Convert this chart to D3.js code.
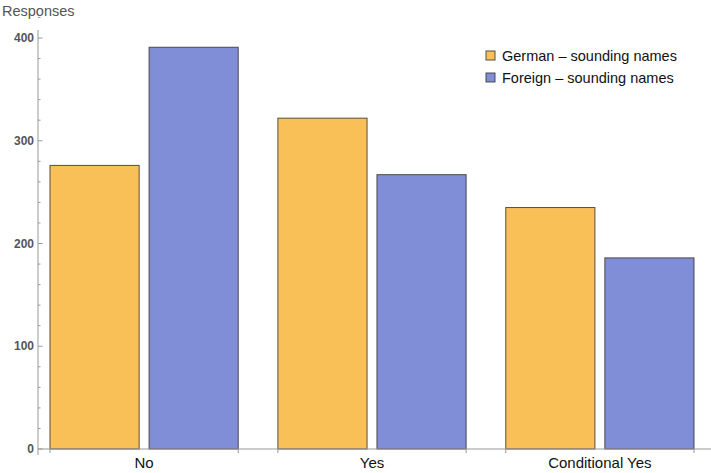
<!DOCTYPE html>
<html>
<head>
  <meta charset="utf-8">
  <script src="https://d3js.org/d3.v7.min.js"></script>
  <style>
    body { margin: 0; background: #fff; }
    text { font-family: "Liberation Sans", Arial, sans-serif; }
  </style>
</head>
<body>
  <svg width="711" height="473"></svg>

  <script>
    // Chart data
    var categories = ["No", "Yes", "Conditional Yes"];
    var seriesNames = ["German \u2013 sounding names", "Foreign \u2013 sounding names"];
    var germanValues = [276, 322, 235];
    var foreignValues = [391, 267, 186];
    var yTicks = [0, 100, 200, 300, 400];

    var colors = ["#F9C057", "#7F8ED6"];

    var svg = d3.select("svg");

    var y0 = 449, yTop = 38;
    var y = d3.scaleLinear().domain([0, 400]).range([y0, yTop]);

    // group scale and bar-in-group scale
    var x = d3.scaleBand().domain(categories).range([50, 694]).paddingInner(0.174).paddingOuter(0);
    var xs = d3.scaleBand().domain(seriesNames).range([0, x.bandwidth()]).paddingInner(0.1).paddingOuter(0);

    var rows = categories.map((c, i) => ({ cat: c, vals: [germanValues[i], foreignValues[i]] }));

    // Bars
    var groups = svg.selectAll("g.grp")
      .data(rows)
      .enter()
      .append("g")
      .attr("class", "grp")
      .attr("transform", d => "translate(" + x(d.cat) + ",0)");

    groups.selectAll("rect")
      .data(d => d.vals.map((v, j) => ({ name: seriesNames[j], value: v, j: j })))
      .enter()
      .append("rect")
      .attr("x", d => xs(d.name))
      .attr("y", d => y(d.value))
      .attr("width", xs.bandwidth())
      .attr("height", d => y0 - y(d.value))
      .attr("fill", d => colors[d.j])
      .attr("stroke", "#3a3530")
      .attr("stroke-opacity", 0.85)
      .attr("stroke-width", 1);

    // Y axis
    var axisX = 38;
    svg.append("line")
      .attr("x1", axisX).attr("x2", axisX)
      .attr("y1", 30).attr("y2", y0 + 6)
      .attr("stroke", "#999").attr("stroke-width", 1);

    var minor = d3.range(0, 421, 20).filter(v => v % 100 !== 0);
    svg.selectAll("line.minor")
      .data(minor)
      .enter()
      .append("line")
      .attr("class", "minor")
      .attr("x1", axisX).attr("x2", axisX + 2.5)
      .attr("y1", d => y(d)).attr("y2", d => y(d))
      .attr("stroke", "#999");

    svg.selectAll("line.major")
      .data(yTicks)
      .enter()
      .append("line")
      .attr("class", "major")
      .attr("x1", axisX).attr("x2", axisX + 4.5)
      .attr("y1", d => y(d)).attr("y2", d => y(d))
      .attr("stroke", "#999");

    svg.selectAll("text.ytick")
      .data(yTicks)
      .enter()
      .append("text")
      .attr("class", "ytick")
      .attr("x", axisX - 4)
      .attr("y", d => y(d) + 4)
      .attr("text-anchor", "end")
      .attr("font-size", 12)
      .attr("font-weight", "bold")
      .attr("fill", "#555")
      .text(d => d);

    svg.append("text")
      .attr("x", 2).attr("y", 16)
      .attr("font-size", 14.5)
      .attr("fill", "#555")
      .text("Responses");

    // X axis
    svg.append("line")
      .attr("x1", axisX).attr("x2", 711)
      .attr("y1", y0).attr("y2", y0)
      .attr("stroke", "#999");

    var edges = [];
    categories.forEach(c => { edges.push(x(c)); edges.push(x(c) + x.bandwidth()); });
    svg.selectAll("line.xtick")
      .data(edges)
      .enter()
      .append("line")
      .attr("class", "xtick")
      .attr("x1", d => d).attr("x2", d => d)
      .attr("y1", y0).attr("y2", y0 + 4)
      .attr("stroke", "#999");

    svg.selectAll("text.xlab")
      .data(categories)
      .enter()
      .append("text")
      .attr("class", "xlab")
      .attr("x", d => x(d) + x.bandwidth() / 2)
      .attr("y", 468)
      .attr("text-anchor", "middle")
      .attr("font-size", 15)
      .attr("fill", "#111")
      .text(d => d);

    // Legend
    var legend = svg.selectAll("g.leg")
      .data(seriesNames)
      .enter()
      .append("g")
      .attr("class", "leg")
      .attr("transform", (d, i) => "translate(486," + (51 + i * 22) + ")");

    legend.append("rect")
      .attr("width", 9).attr("height", 9)
      .attr("fill", (d, i) => colors[i])
      .attr("stroke", "#3a3530").attr("stroke-opacity", 0.85);

    legend.append("text")
      .attr("x", 16).attr("y", 9.5)
      .attr("font-size", 14.5)
      .attr("fill", "#111")
      .text(d => d);
  </script>
</body>
</html>
